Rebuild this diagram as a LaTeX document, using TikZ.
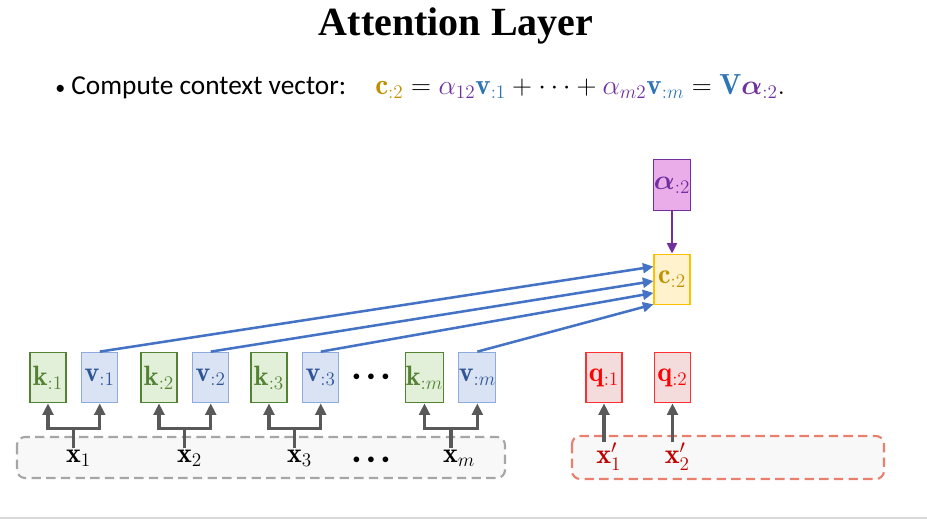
\documentclass[tikz,border=0pt]{standalone}
\usepackage{amsmath}
\usepackage{fontspec}
\newfontfamily\titlefont{Liberation Serif}
\newfontfamily\slidefont{Carlito}
\usepackage{tikz}
\usetikzlibrary{arrows.meta,positioning,calc}
\definecolor{keyfill}{HTML}{E2F0D9}
\definecolor{keyline}{HTML}{548235}
\definecolor{valfill}{HTML}{DAE3F3}
\definecolor{valline}{HTML}{8FAADC}
\definecolor{valtext}{HTML}{2F5597}
\definecolor{ctxfill}{HTML}{FFF2CC}
\definecolor{ctxline}{HTML}{FFC000}
\definecolor{ctxtext}{HTML}{BF9000}
\definecolor{alfill}{HTML}{EAADEA}
\definecolor{alline}{HTML}{7030A0}
\definecolor{qfill}{HTML}{F4DCDC}
\definecolor{qline}{HTML}{FF3030}
\definecolor{qtext}{HTML}{FF0000}
\definecolor{xqtext}{HTML}{C00000}
\definecolor{mixblue}{HTML}{4472C4}
\definecolor{eqblue}{HTML}{2E75B6}
\definecolor{feedgray}{HTML}{595959}
\definecolor{boxgray}{HTML}{A6A6A6}
\definecolor{boxred}{HTML}{E9806E}
\definecolor{bgfill}{HTML}{F8F8F8}
\tikzset{
  vecbox/.style={draw, line width=0.8pt, minimum width=27pt, minimum height=38pt,
                 inner sep=0pt, font=\fontsize{21}{23}\selectfont},
  keybox/.style={vecbox, fill=keyfill, draw=keyline, text=keyline},
  valbox/.style={vecbox, fill=valfill, draw=valline, text=valtext},
  ctxbox/.style={vecbox, fill=ctxfill, draw=ctxline, text=ctxtext},
  albox/.style={vecbox, fill=alfill, draw=alline, text=alline},
  qbox/.style={vecbox, fill=qfill, draw=qline, text=qtext},
  inlabel/.style={inner sep=1pt, font=\fontsize{21}{23}\selectfont},
  inbox/.style={dashed, dash pattern=on 7pt off 4pt, line width=1.6pt, rounded corners=6pt, fill=bgfill},
  feed/.style={-{Triangle[length=3mm,width=2.8mm]}, line width=2.4pt, draw=feedgray},
  mix/.style={-{Triangle[length=2.8mm,width=2.6mm]}, line width=1.9pt, draw=mixblue},
  dotsnode/.style={font=\fontsize{11}{12}\selectfont}
}

\begin{document}
\begin{tikzpicture}[x=0.75pt, y=-0.75pt]
\useasboundingbox (0,0) rectangle (927,522);
\draw[white!85!black, line width=0.8pt] (0,518) -- (927,518);

% title and bullet line
\node[anchor=base, inner sep=0pt, font=\titlefont\bfseries\fontsize{30}{32}\selectfont] (title) at (456,35) {Attention Layer};
\node[anchor=base west, inner sep=0pt, font=\slidefont\fontsize{20.5}{24}\selectfont] (bullet) at (55,94) {{\fontsize{15}{15}\selectfont\textbullet}\ Compute context vector:};
\node[anchor=base west, inner sep=0pt, font=\fontsize{21.8}{24}\selectfont] (eq) at (375,94)
  {$\color{ctxtext}\mathbf{c}_{:2} \color{black}= \color{alline}\alpha_{12}\color{eqblue}\mathbf{v}_{:1}
   \color{black}+ \cdots + \color{alline}\alpha_{m2}\color{eqblue}\mathbf{v}_{:m}
   \color{black}= \color{eqblue}\mathbf{V}\color{alline}\boldsymbol{\alpha}_{:2}\color{black}.$};

% input frames
\draw[inbox, draw=boxgray] (17,437) rectangle (505,478);
\draw[inbox, draw=boxred] (572,436) rectangle (884,479);

% keys and values
\foreach \i/\px in {1/48, 2/159, 3/269, m/424.5} {
  \node[keybox] (k\i) at (\px,377.5) {$\mathbf{k}_{:\i}$};
  \node[valbox, right=11pt of k\i] (v\i) {$\mathbf{v}_{:\i}$};
  \node[inlabel] (x\i) at ($(k\i.south)!0.5!(v\i.south)+(0,55)$) {$\mathbf{x}_{\rlap{$\scriptstyle \i$}}$};
  \draw[feed] (x\i.north) |- ($(k\i.south)+(0,25)$) -- (k\i.south);
  \draw[feed] (x\i.north) |- ($(v\i.south)+(0,25)$) -- (v\i.south);
}
\node[dotsnode] (dotsup) at (371,377) {$\bullet\;\bullet\;\bullet$};
\node[dotsnode] (dotsdown) at (371,460) {$\bullet\;\bullet\;\bullet$};

% context vector and weights
\node[ctxbox] (c) at (672,279.5) {$\mathbf{c}_{:2}$};
\node[albox, above=32pt of c] (al) {$\boldsymbol{\alpha}_{:2}$};
\draw[-{Triangle[length=2.8mm,width=2.6mm]}, line width=1.9pt, draw=alline] (al.south) -- (c.north);
\foreach \v/\f in {v1/0.25, v2/0.53, v3/0.76, vm/0.98}
  \draw[mix] (\v.north) -- ($(c.north west)!\f!(c.south west)$);

% queries
\node[qbox] (q1) at (604,377.5) {$\mathbf{q}_{:1}$};
\node[qbox] (q2) at (672.5,377.5) {$\mathbf{q}_{:2}$};
\node[inlabel, text=xqtext] (xq1) at (604,457) {$\mathbf{x}^{\rlap{$\scriptstyle\prime$}}_{\rlap{$\scriptstyle 1$}}$};
\node[inlabel, text=xqtext] (xq2) at (672.5,457) {$\mathbf{x}^{\rlap{$\scriptstyle\prime$}}_{\rlap{$\scriptstyle 2$}}$};
\draw[feed] (xq1.north) -- (q1.south);
\draw[feed] (xq2.north) -- (q2.south);
\end{tikzpicture}
\end{document}
